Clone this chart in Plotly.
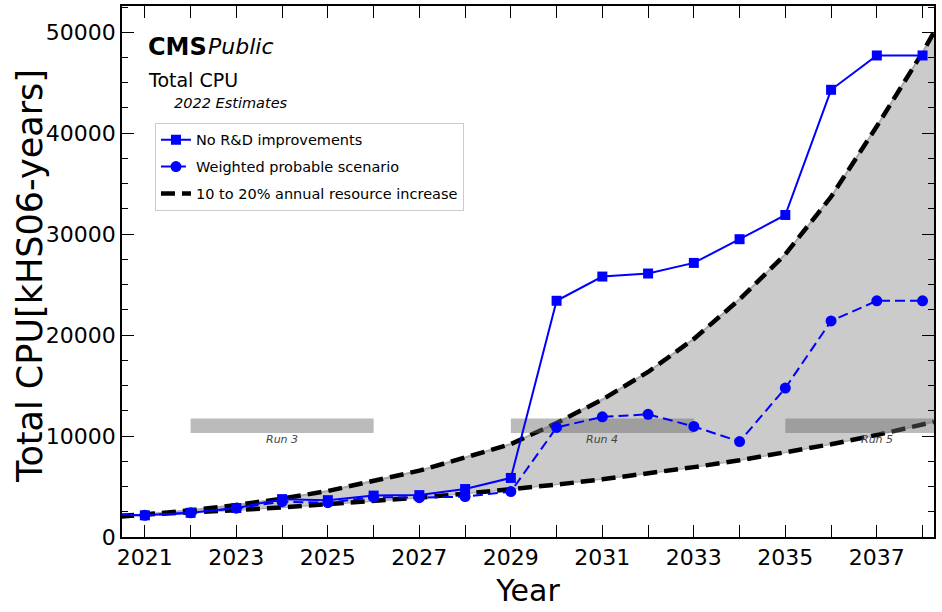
import plotly.graph_objects as go

# ---------------- data ----------------
years = [2020, 2021, 2022, 2023, 2024, 2025, 2026, 2027, 2028, 2029,
         2030, 2031, 2032, 2033, 2034, 2035, 2036, 2037, 2038]
no_rd = [2250, 2150, 2400, 2870, 3750, 3650, 4100, 4150, 4750, 5850,
         23400, 25800, 26100, 27150, 29500, 31900, 44300, 47700, 47700]
weighted = [2250, 2150, 2400, 2850, 3500, 3400, 3950, 3900, 4000, 4500,
            10850, 11900, 12150, 10950, 9450, 14750, 21400, 23400, 23400]

env_years = [2020, 2021, 2022, 2023, 2024, 2025, 2026, 2027, 2028, 2029,
             2030, 2031, 2032, 2033, 2034, 2035, 2036, 2037, 2038, 2038.25]
env_low = [2000, 2200, 2420, 2660, 2930, 3220, 3540, 3900, 4290, 4720,
           5190, 5710, 6280, 6920, 7600, 8380, 9190, 10110, 11120, 11400]
env_high = [1830, 2200, 2640, 3170, 3800, 4560, 5550, 6570, 7880, 9200,
            11300, 13620, 16350, 19620, 23540, 28000, 33700, 40680, 48000, 50000]

run_names = ["Run 3", "Run 4", "Run 5"]
run_start = [2022, 2029, 2035]
run_end = [2026, 2033, 2039]

x_tick_years = list(range(2021, 2039))
x_tick_text = [str(y) if y % 2 == 1 else "" for y in x_tick_years]
y_tick_vals = [0, 10000, 20000, 30000, 40000, 50000]
y_tick_text = ["0", "10000", "20000", "30000", "40000", "50000"]

# ---------------- style constants ----------------
FONT = "DejaVu Sans"
BLUE = "#0000ff"
BAR_LO, BAR_HI = 10300, 11750
LABEL_Y = 9650

fig = go.Figure()

# filled band between 10% and 20% growth envelopes
fig.add_trace(go.Scatter(x=env_years, y=env_low, mode="lines",
                         line=dict(color="#b0b0b0", width=1.5),
                         showlegend=False, hoverinfo="skip"))
fig.add_trace(go.Scatter(x=env_years, y=env_high, mode="lines",
                         line=dict(color="#a8a8a8", width=2),
                         fill="tonexty", fillcolor="#cbcbcb",
                         showlegend=False, hoverinfo="skip"))

# black dashed envelopes
fig.add_trace(go.Scatter(x=env_years, y=env_low, mode="lines",
                         line=dict(color="black", width=4.5, dash="14px,7px"),
                         showlegend=False, legendgroup="env"))
fig.add_trace(go.Scatter(x=env_years, y=env_high, mode="lines",
                         line=dict(color="black", width=4.5, dash="14px,7px"),
                         name="10 to 20% annual resource increase",
                         legendgroup="env", legendrank=3))

# LHC run bars (semi-transparent grey boxes)
for nm, s, e in zip(run_names, run_start, run_end):
    fig.add_trace(go.Scatter(x=[s, e, e, s, s],
                             y=[BAR_LO, BAR_LO, BAR_HI, BAR_HI, BAR_LO],
                             mode="lines", fill="toself",
                             fillcolor="rgba(105,105,105,0.45)",
                             line=dict(width=0, color="rgba(0,0,0,0)"),
                             showlegend=False, hoverinfo="skip"))
    fig.add_annotation(x=(s + e) / 2, y=LABEL_Y, text="<i>" + nm + "</i>",
                       showarrow=False, xanchor="center", yanchor="middle",
                       font=dict(family=FONT, size=11, color="#444444"))

# scenarios
fig.add_trace(go.Scatter(x=years, y=no_rd, mode="lines+markers",
                         line=dict(color=BLUE, width=2),
                         marker=dict(symbol="square", size=10, color=BLUE),
                         name="No R&D improvements",
                         legendgroup="nord", legendrank=1))
fig.add_trace(go.Scatter(x=years, y=weighted, mode="lines+markers",
                         line=dict(color=BLUE, width=2, dash="10px,5px"),
                         marker=dict(symbol="circle", size=11, color=BLUE),
                         name="Weighted probable scenario",
                         legendgroup="wps", legendrank=2))

# texts
fig.add_annotation(xref="paper", yref="paper", x=0.030, y=0.923,
                   text="<b>CMS</b>", showarrow=False, xanchor="left",
                   yanchor="middle", font=dict(family=FONT, size=24, color="black"))
fig.add_annotation(xref="paper", yref="paper", x=0.104, y=0.923,
                   text="<i>Public</i>", showarrow=False, xanchor="left",
                   yanchor="middle", font=dict(family=FONT, size=22, color="black"))
fig.add_annotation(xref="paper", yref="paper", x=0.030, y=0.861,
                   text="Total CPU", showarrow=False, xanchor="left",
                   yanchor="middle", font=dict(family=FONT, size=19, color="black"))
fig.add_annotation(xref="paper", yref="paper", x=0.061, y=0.817,
                   text="<i>2022 Estimates</i>", showarrow=False, xanchor="left",
                   yanchor="middle", font=dict(family=FONT, size=14.5, color="black"))
# y-axis title as rotated text
fig.add_annotation(xref="paper", yref="paper", x=-0.1133, y=0.4915,
                   text="Total CPU[kHS06-years]", textangle=-90, showarrow=False,
                   xanchor="center", yanchor="middle",
                   font=dict(family=FONT, size=35, color="black"))

axis_common = dict(showline=True, linecolor="black", linewidth=1.5,
                   mirror="ticks", ticks="inside", tickcolor="black",
                   tickwidth=1.2, ticklen=12, showgrid=False, zeroline=False,
                   tickfont=dict(family=FONT, size=22, color="black"))

fig.update_xaxes(range=[2020.5, 2038.25], tickmode="array",
                 tickvals=x_tick_years, ticktext=x_tick_text,
                 title=dict(text="Year", font=dict(family=FONT, size=30, color="black"),
                            standoff=11),
                 **axis_common)
fig.update_yaxes(range=[0, 52600], tickmode="array",
                 tickvals=y_tick_vals, ticktext=y_tick_text,
                 minor=dict(dtick=2500, ticks="inside", ticklen=6,
                            tickcolor="black", tickwidth=1, showgrid=False),
                 **axis_common)

fig.update_layout(
    width=942, height=612,
    margin=dict(l=122, r=8, t=6, b=75, autoexpand=False),
    paper_bgcolor="white", plot_bgcolor="white",
    font=dict(family=FONT, color="black"),
    legend=dict(x=0.0406, y=0.780, xanchor="left", yanchor="top",
                bgcolor="white", bordercolor="#cccccc", borderwidth=1,
                font=dict(family=FONT, size=14.5, color="black"),
                traceorder="grouped", tracegroupgap=5, itemwidth=30),
)

fig.write_html("out.html")
